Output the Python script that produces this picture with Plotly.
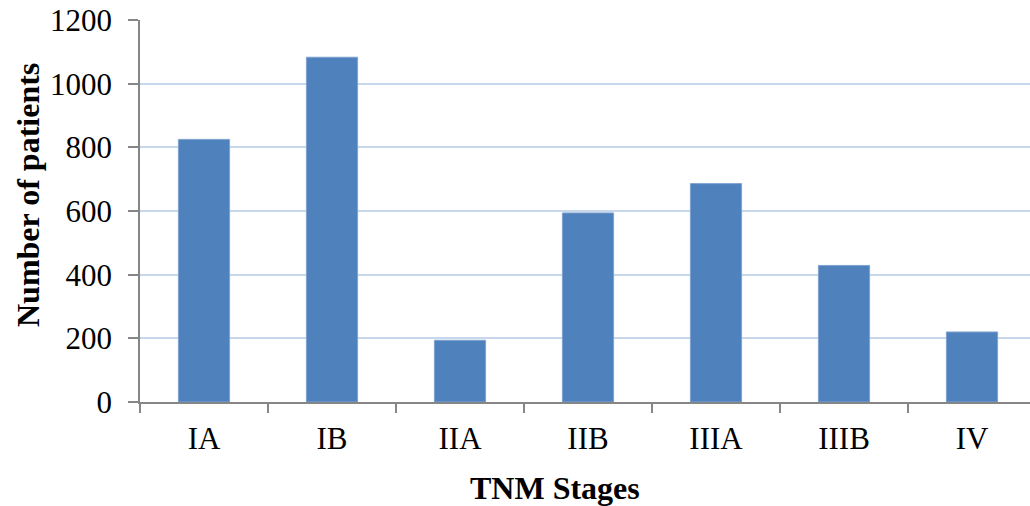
import plotly.graph_objects as go

stages = ["IA", "IB", "IIA", "IIB", "IIIA", "IIIB", "IV"]
patients = [825, 1083, 194, 594, 686, 429, 220]
y_ticks = [0, 200, 400, 600, 800, 1000, 1200]

W, H = 1030, 506
L, R, T, B = 140, 0, 20, 104
PW, PH = W - L - R, H - T - B

fig = go.Figure(
    go.Bar(
        x=stages,
        y=patients,
        width=0.4,
        marker=dict(color="#4F81BD", line=dict(color="#7FA3D0", width=1)),
    )
)

font_family = "Liberation Serif, Times New Roman, serif"

fig.update_layout(
    width=W,
    height=H,
    margin=dict(l=L, r=R, t=T, b=B),
    plot_bgcolor="white",
    paper_bgcolor="white",
    showlegend=False,
    font=dict(family=font_family, size=31, color="black"),
)

fig.update_xaxes(
    type="category",
    range=[-0.5, -0.5 + PW / 128.0],
    showline=True,
    linecolor="#868686",
    linewidth=1.5,
    ticks="outside",
    tickson="boundaries",
    ticklen=9,
    tickcolor="#868686",
    tickwidth=1.5,
    showgrid=False,
    ticklabelstandoff=8,
    tickfont=dict(size=31, family=font_family),
)

fig.update_yaxes(
    range=[0, 1200],
    tickvals=y_ticks,
    showline=True,
    linecolor="#868686",
    linewidth=1.5,
    ticks="outside",
    ticklen=10,
    tickcolor="#868686",
    tickwidth=1.5,
    showgrid=True,
    gridcolor="#C8D8EC",
    gridwidth=1.5,
    zeroline=False,
    ticklabelstandoff=10,
    ticklabeloverflow="allow",
    tickfont=dict(size=31, family=font_family),
)

fig.add_annotation(
    text="<b>Number of patients</b>",
    xref="paper", yref="paper",
    x=(28 - L) / PW, y=(T + PH - 195) / PH,
    xanchor="center", yanchor="middle",
    textangle=-90, showarrow=False,
    font=dict(size=32, family=font_family, color="black"),
)

fig.add_annotation(
    text="<b>TNM Stages</b>",
    xref="paper", yref="paper",
    x=(555 - L) / PW, y=(T + PH - 488) / PH,
    xanchor="center", yanchor="middle",
    showarrow=False,
    font=dict(size=32, family=font_family, color="black"),
)

fig.write_html(
    "out.html",
    config={"displayModeBar": False},
    post_script="document.body.style.margin='0';",
)
